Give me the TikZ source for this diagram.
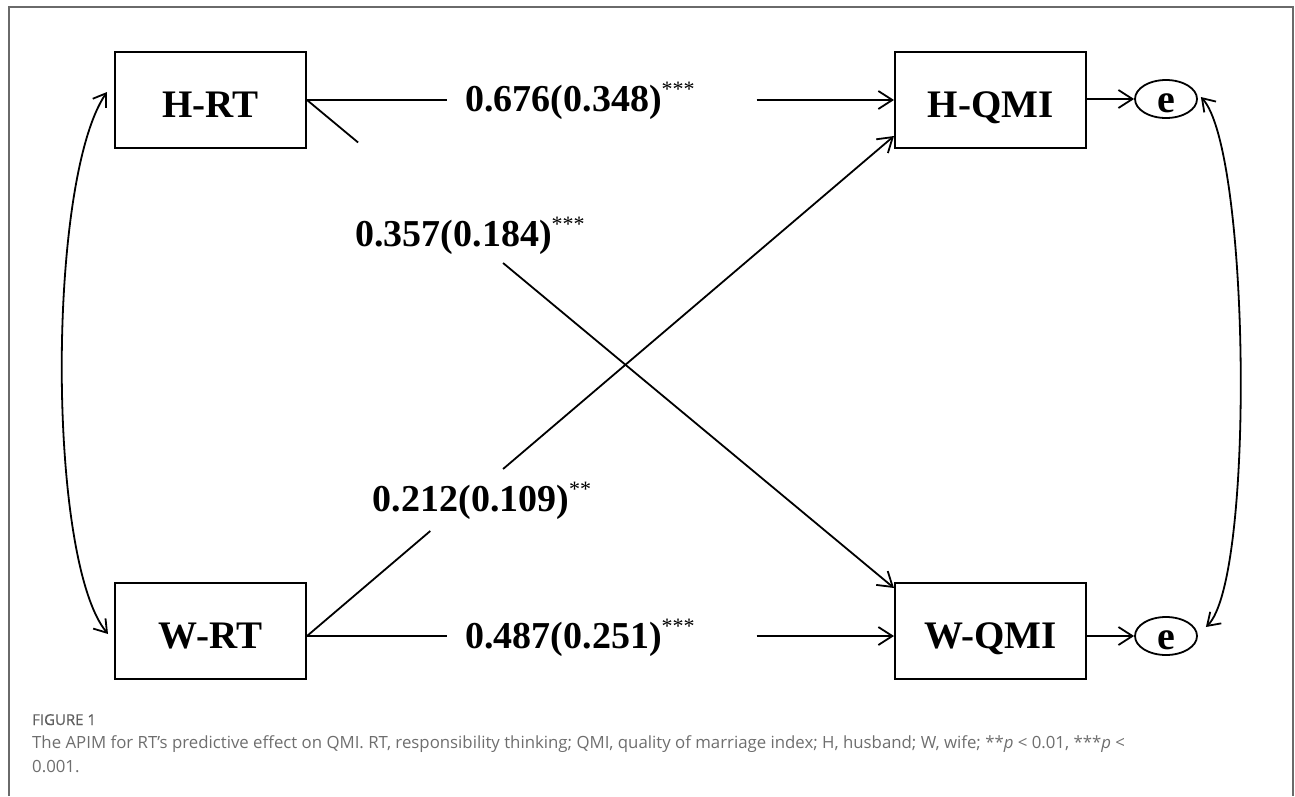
\documentclass[tikz,border=0pt]{standalone}
\usepackage{fontspec}
\setmainfont{Liberation Serif}
\newfontfamily\capfont{Open Sans}
\newfontfamily\figfont[FakeBold=0.6]{Open Sans}
\usetikzlibrary{arrows.meta,calc,shapes.geometric}
\definecolor{framec}{HTML}{6A6A6A}
\definecolor{capc}{HTML}{6E6E6E}
\definecolor{figc}{HTML}{5E5E5E}
\tikzset{
  box/.style={draw, line width=2pt, minimum width=191pt, minimum height=96pt, inner sep=0pt,
    text height=41pt, text depth=7pt, font=\bfseries\fontsize{39}{39}\selectfont},
  ell/.style={draw, ellipse, line width=1.8pt, minimum width=62pt, minimum height=38pt, inner sep=0pt,
    text height=26pt, text depth=0pt, font=\bfseries\fontsize{40}{40}\selectfont},
  lab/.style={inner sep=0pt, font=\bfseries\fontsize{38}{38}\selectfont},
  conn/.style={line width=1.8pt, -{Straight Barb[length=14pt,width=18pt,line width=1.8pt]}},
  cov/.style={line width=1.8pt, {Straight Barb[length=12pt,width=16pt,line width=1.8pt]}-{Straight Barb[length=12pt,width=16pt,line width=1.8pt]}},
  capt/.style={anchor=base west, inner sep=0pt, text=capc, font=\capfont\fontsize{16.8}{20}\selectfont}
}
\newcommand{\stars}[1]{\raisebox{0.38em}{\mdseries\fontsize{22}{22}\selectfont #1}}
\begin{document}
\begin{tikzpicture}[x=1pt,y=-1pt]
\useasboundingbox (0,0) rectangle (1295,796);
\draw[framec, line width=1.2pt] (9,796) -- (9,7) -- (1293,7) -- (1293,796);

\node[box] (hrt) at (210.5,100) {H-RT};
\node[box] (wrt) at (210.5,631) {W-RT};
\node[box] (hqmi) at (990.5,100) {H-QMI};
\node[box] (wqmi) at (990.5,631) {W-QMI};
\node[ell] (e1) at (1166,99) {e};
\node[ell] (e2) at (1166,636) {e};

\coordinate (wrtout) at ($(wrt.east)+(0,5)$);
\coordinate (wqmiin) at ($(wqmi.west)+(0,5)$);
\coordinate (wqmiout) at ($(wqmi.east)+(0,5)$);
\coordinate (hqmiout) at ($(hqmi.east)+(0,-1)$);
\coordinate (hqmiin) at ($(hqmi.south west)+(0,-13)$);
\coordinate (wqmitop) at ($(wqmi.north west)+(0,6)$);

% actor / partner paths, each broken where its label sits
\draw[conn] (hrt.east) -- ($(hrt.east)!0.239!(hqmi.west)$)
            ($(hrt.east)!0.766!(hqmi.west)$) -- (hqmi.west);
\draw[conn] (wrtout) -- ($(wrtout)!0.239!(wqmiin)$)
            ($(wrtout)!0.766!(wqmiin)$) -- (wqmiin);
\draw[conn] (hrt.east) -- ($(hrt.east)!0.087!(wqmitop)$)
            ($(hrt.east)!0.334!(wqmitop)$) -- (wqmitop);
\draw[conn] (wrtout) -- ($(wrtout)!0.21!(hqmiin)$)
            ($(wrtout)!0.334!(hqmiin)$) -- (hqmiin);

\node[lab] (l1) at (580,101) {0.676(0.348)\stars{***}};
\node[lab] (l2) at (580,638) {0.487(0.251)\stars{***}};
\node[lab] (l3) at (470,236) {0.357(0.184)\stars{***}};
\node[lab] (l4) at (482,501) {0.212(0.109)\stars{**}};

\draw[conn] (hqmiout) -- (e1.west);
\draw[conn] (wqmiout) -- (e2.west);

\coordinate (lt) at ($(hrt.west)+(-7,-8)$);
\coordinate (lb) at ($(wrt.west)+(-6,3)$);
\draw[cov] (lt) .. controls (47,180) and (47,560) .. (lb);
\coordinate (rt) at ($(e1.east)+(3,-2)$);
\coordinate (rb) at ($(e2.east)+(8,-9)$);
\draw[cov] (rt) .. controls (1250,150) and (1255,580) .. (rb);

\node[capt, text=figc, font=\figfont\fontsize{15}{16}\selectfont] (fig) at (32,725) {FIGURE 1};
\node[capt] (cap1) at (32,748) {The APIM for RT’s predictive effect on QMI. RT, responsibility thinking; QMI, quality of marriage index; H, husband; W, wife; **\textit{p} < 0.01, ***\textit{p} <};
\node[capt] (cap2) at (32,772) {0.001.};
\end{tikzpicture}
\end{document}
